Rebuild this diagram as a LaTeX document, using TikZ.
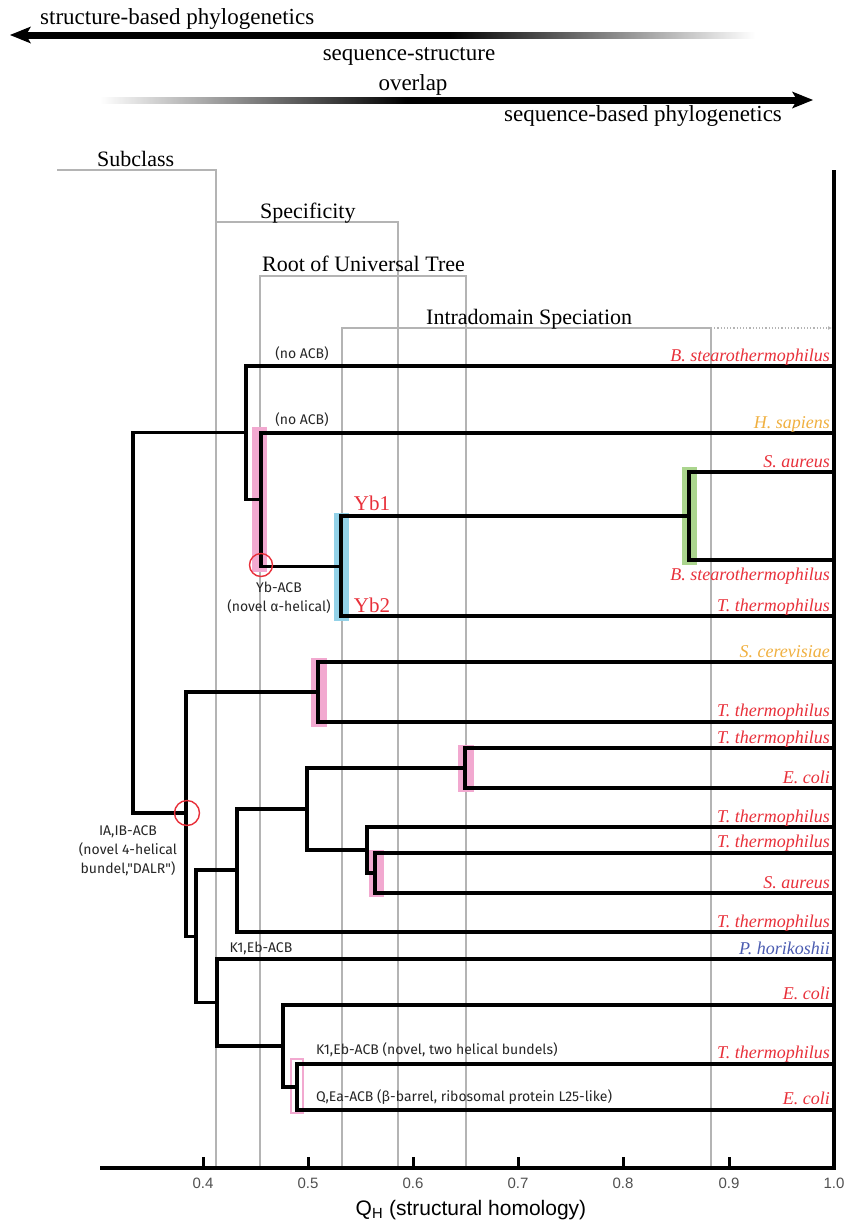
\documentclass[tikz,border=0pt]{standalone}
\usepackage{fontspec}
\setmainfont{Liberation Serif}
\setsansfont{Liberation Sans}
\newfontfamily\annfont{Fira Sans}
\usetikzlibrary{arrows.meta}

\definecolor{spred}{HTML}{E8303A}
\definecolor{sporange}{HTML}{F0B040}
\definecolor{spblue}{HTML}{4A5BB0}
\definecolor{barpink}{HTML}{F2A9D0}
\definecolor{barblue}{HTML}{93D2E8}
\definecolor{bargreen}{HTML}{ABD58E}
\definecolor{gridgray}{HTML}{B4B4B4}
\definecolor{ticktext}{HTML}{505050}

\pgfdeclarehorizontalshading{fadetoright}{100bp}{color(0bp)=(black); color(25bp)=(black); color(54bp)=(black); color(75bp)=(white); color(100bp)=(white)}
\pgfdeclarehorizontalshading{fadefromleft}{100bp}{color(0bp)=(white); color(25bp)=(white); color(47bp)=(black); color(75bp)=(black); color(100bp)=(black)}

\tikzset{
  branch/.style={line width=3.1pt, black},
  gridline/.style={line width=1.2pt, gridgray},
  species/.style={anchor=base east, font=\fontsize{18}{20}\selectfont\itshape, text=spred, inner sep=0pt},
  brlabel/.style={anchor=base west, font=\fontsize{22}{24}\selectfont, inner sep=0pt},
  toplabel/.style={font=\fontsize{23}{25}\selectfont, inner sep=0pt},
  ann/.style={font=\annfont\fontsize{14}{19}\selectfont, text=black!85, inner sep=0pt},
  yblabel/.style={font=\fontsize{21}{23}\selectfont, text=spred, inner sep=0pt},
  ticklabel/.style={font=\sffamily\fontsize{15}{17}\selectfont, text=ticktext, inner sep=0pt},
  tickmark/.style={fill=black},
  hubring/.style={draw=spred, line width=1.4pt}
}

\begin{document}
\begin{tikzpicture}[x=1pt, y=-1pt]
  \useasboundingbox (0,0) rectangle (846,1227);

  % phylogenetics arrows
  \shade[shading=fadetoright] (26,32) rectangle (755,38);
  \fill (10,35) -- (31,26.5) -- (26,35) -- (31,43.5) -- cycle;
  \shade[shading=fadefromleft] (100,97) rectangle (797,103);
  \fill (813,100) -- (792,91.5) -- (797,100) -- (792,108.5) -- cycle;
  \node[toplabel, anchor=base west] (strbased) at (40,24.5) {structure-based phylogenetics};
  \node[toplabel, anchor=base] (seqstr) at (409,60) {sequence-structure};
  \node[toplabel, anchor=base] (overlap) at (413,90) {overlap};
  \node[toplabel, anchor=base] (seqbased) at (643,121) {sequence-based phylogenetics};

  % grey level brackets
  \draw[gridline] (57,170) -- (216,170) -- (216,1168);
  \draw[gridline] (216,222) -- (398,222) -- (398,1168);
  \draw[gridline] (260,1168) -- (260,276) -- (466,276) -- (466,1168);
  \draw[gridline] (342,1168) -- (342,328) -- (711,328) -- (711,1168);
  \draw[gridline, dotted, -{Latex[length=4pt,width=4pt]}] (711,328) -- (832,328);
  \node[brlabel] (subclass) at (97,166) {Subclass};
  \node[brlabel] (specif) at (260,218) {Specificity};
  \node[brlabel] (rootut) at (262,271) {Root of Universal Tree};
  \node[brlabel] (intradom) at (426,324) {Intradomain Speciation};

  % highlight bars
  \fill[barpink] (252,427) rectangle (267,572);
  \fill[barblue] (334,513) rectangle (349,621);
  \fill[bargreen] (682,467) rectangle (697,565);
  \fill[barpink] (311,658) rectangle (327,727);
  \fill[barpink] (458,745) rectangle (474,792);
  \fill[barpink] (369,850) rectangle (384,897);
  \draw[barpink, line width=1.5pt] (291,1059) rectangle (303,1113);

  % inner nodes
  \coordinate (nR) at (133,623.5);
  \coordinate (nA) at (246,432.5);
  \coordinate (nB) at (261,499.5);
  \coordinate (nC) at (341,566.5);
  \coordinate (nD) at (689,516);
  \coordinate (nE) at (186,813);
  \coordinate (nF) at (318,692);
  \coordinate (nG) at (196,936.5);
  \coordinate (nH) at (237,870);
  \coordinate (nI) at (307,809);
  \coordinate (nJ) at (465,768);
  \coordinate (nL) at (367,850);
  \coordinate (nM) at (375,873);
  \coordinate (nK) at (217,1002.5);
  \coordinate (nN) at (283,1046);
  \coordinate (nO) at (297,1087);

  % leaves on the right axis
  \coordinate (l1) at (834,366);
  \coordinate (l2) at (834,433);
  \coordinate (l3) at (834,472);
  \coordinate (l4) at (834,560);
  \coordinate (l5) at (834,616);
  \coordinate (l6) at (834,662);
  \coordinate (l7) at (834,722);
  \coordinate (l8) at (834,748);
  \coordinate (l9) at (834,788);
  \coordinate (l10) at (834,827);
  \coordinate (l11) at (834,853);
  \coordinate (l12) at (834,893);
  \coordinate (l13) at (834,932);
  \coordinate (l14) at (834,959);
  \coordinate (l15) at (834,1005);
  \coordinate (l16) at (834,1064);
  \coordinate (l17) at (834,1110);

  % dendrogram branches
  \draw[branch] (nR) |- (nA);
  \draw[branch] (nR) |- (nE);
  \draw[branch] (nA) |- (l1);
  \draw[branch] (nA) |- (nB);
  \draw[branch] (nB) |- (l2);
  \draw[branch] (nB) |- (nC);
  \draw[branch] (nC) |- (nD);
  \draw[branch] (nC) |- (l5);
  \draw[branch] (nD) |- (l3);
  \draw[branch] (nD) |- (l4);
  \draw[branch] (nE) |- (nF);
  \draw[branch] (nE) |- (nG);
  \draw[branch] (nF) |- (l6);
  \draw[branch] (nF) |- (l7);
  \draw[branch] (nG) |- (nH);
  \draw[branch] (nG) |- (nK);
  \draw[branch] (nH) |- (nI);
  \draw[branch] (nH) |- (l13);
  \draw[branch] (nI) |- (nJ);
  \draw[branch] (nI) |- (nL);
  \draw[branch] (nJ) |- (l8);
  \draw[branch] (nJ) |- (l9);
  \draw[branch] (nL) |- (l10);
  \draw[branch] (nL) |- (nM);
  \draw[branch] (nM) |- (l11);
  \draw[branch] (nM) |- (l12);
  \draw[branch] (nK) |- (l14);
  \draw[branch] (nK) |- (nN);
  \draw[branch] (nN) |- (l15);
  \draw[branch] (nN) |- (nO);
  \draw[branch] (nO) |- (l16);
  \draw[branch] (nO) |- (l17);

  % ancestral nodes
  \draw[hubring] (261,565) circle (11.5);
  \draw[hubring] (187,813) circle (12.5);

  % species names
  \node[species] (s1) at (830,361.5) {B. stearothermophilus};
  \node[species, text=sporange] (s2) at (830,428) {H. sapiens};
  \node[species] (s3) at (830,467) {S. aureus};
  \node[species] (s4) at (830,580) {B. stearothermophilus};
  \node[species] (s5) at (830,611.5) {T. thermophilus};
  \node[species, text=sporange] (s6) at (830,657) {S. cerevisiae};
  \node[species] (s7) at (830,716.5) {T. thermophilus};
  \node[species] (s8) at (830,743.5) {T. thermophilus};
  \node[species] (s9) at (830,783.5) {E. coli};
  \node[species] (s10) at (830,822.5) {T. thermophilus};
  \node[species] (s11) at (830,847.5) {T. thermophilus};
  \node[species] (s12) at (830,888.5) {S. aureus};
  \node[species] (s13) at (830,927.5) {T. thermophilus};
  \node[species, text=spblue] (s14) at (830,954.5) {P. horikoshii};
  \node[species] (s15) at (830,999.5) {E. coli};
  \node[species] (s16) at (830,1058.5) {T. thermophilus};
  \node[species] (s17) at (830,1104.5) {E. coli};

  % domain annotations
  \node[ann] (noacb1) at (302,354) {(no ACB)};
  \node[ann] (noacb2) at (302,420) {(no ACB)};
  \node[ann, align=center] (ybacb) at (279,598) {Yb-ACB\\(novel α-helical)};
  \node[ann, align=center] (iaib) at (128,851) {IA,IB-ACB\\(novel 4-helical\\bundel,"DALR")};
  \node[ann] (k1eb) at (261,948) {K1,Eb-ACB};
  \node[ann, anchor=west] (k1ebnov) at (316,1050) {K1,Eb-ACB (novel, two helical bundels)};
  \node[ann, anchor=west] (qea) at (316,1097) {Q,Ea-ACB (β-barrel, ribosomal protein L25-like)};
  \node[yblabel] (yb1) at (372,503) {Yb1};
  \node[yblabel] (yb2) at (372,605) {Yb2};

  % Q_H axis
  \fill[tickmark] (201.5,1157) rectangle (204.5,1168);
  \fill[tickmark] (306.5,1157) rectangle (309.5,1168);
  \fill[tickmark] (411.5,1157) rectangle (414.5,1168);
  \fill[tickmark] (516.5,1157) rectangle (519.5,1168);
  \fill[tickmark] (621.5,1157) rectangle (624.5,1168);
  \fill[tickmark] (727.5,1157) rectangle (730.5,1168);
  \draw[line width=3.1pt] (100,1168) -- (834,1168) -- (834,170);
  \node[ticklabel] (t4) at (203,1183) {0.4};
  \node[ticklabel] (t5) at (308,1183) {0.5};
  \node[ticklabel] (t6) at (413,1183) {0.6};
  \node[ticklabel] (t7) at (518,1183) {0.7};
  \node[ticklabel] (t8) at (623,1183) {0.8};
  \node[ticklabel] (t9) at (729,1183) {0.9};
  \node[ticklabel] (t10) at (834,1183) {1.0};
  \node[font=\sffamily\fontsize{21}{23}\selectfont, inner sep=0pt] (qh) at (471,1210) {Q\textsubscript{H} (structural homology)};
\end{tikzpicture}
\end{document}
